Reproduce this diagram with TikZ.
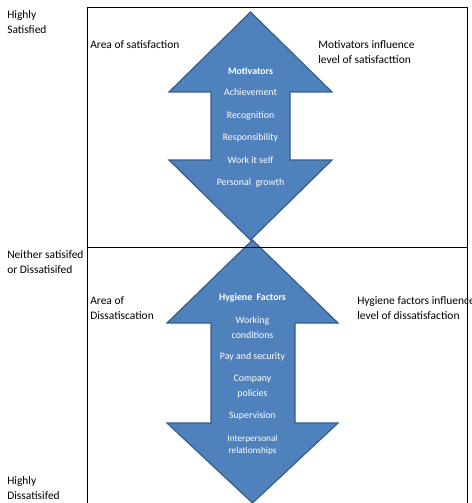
\documentclass[tikz,border=0pt]{standalone}
\usepackage{fontspec}
\setmainfont{Carlito}
\definecolor{arrowblue}{HTML}{4F81BD}
\definecolor{arrowedge}{HTML}{385D8A}
\tikzset{
  lbl/.style={anchor=west,inner sep=0pt,align=left,font=\fontsize{8.6}{11.25}\selectfont},
  inlbl/.style={text=white,inner sep=0pt,align=center,font=\fontsize{7.4}{11.25}\selectfont},
  bigarrow/.style={fill=arrowblue,draw=arrowedge,line width=0.9pt,line join=miter}
}
\begin{document}
\begin{tikzpicture}[x=0.75pt,y=-0.75pt]
    \useasboundingbox (0,0) rectangle (471,503);
    % frame
    \draw (87,510)--(87,7)--(467,7)--(467,510);
    % the two double arrows
    \draw[bigarrow] (250.5,12)--(332,92)--(290,92)--(290,160)--(332,160)--(250.5,240)--(169,160)--(211,160)--(211,92)--(169,92)--cycle;
    \draw[bigarrow] (252.5,240)--(338,323)--(295,323)--(295,423)--(338,423)--(252.5,503)--(167,423)--(211,423)--(211,323)--(167,323)--cycle;
    \draw (87,247)--(467,247);
    % scale on the left
    \node[lbl] (high) at (7,22.5) {Highly\\Satisfied};
    \node[lbl] (neither) at (7,262.5) {Neither satisifed\\or Dissatisifed};
    \node[lbl] (low) at (7,488.5) {Highly\\Dissatisifed};
    % areas
    \node[lbl] (areasat) at (90,45) {Area of satisfaction};
    \node[lbl] (motinfl) at (318,52.5) {Motivators influence\\level of satisfacttion};
    \node[lbl] (areadis) at (90,308.5) {Area of\\Dissatiscation};
    \node[lbl] (hyginfl) at (357,308.5) {Hygiene factors influence\\level of dissatisfaction};
    % motivators
    \node[inlbl,font=\fontsize{7.4}{11.25}\selectfont\bfseries] (mot) at (250.5,71) {Motivators};
    \foreach \y/\t [count=\i] in {92/Achievement,116/Recognition,138/Responsibility,160/Work it self,183/Personal\ \ growth}
        \node[inlbl] (mot\i) at (250.5,\y) {\t};
    % hygiene factors
    \node[inlbl,font=\fontsize{7.4}{11.25}\selectfont\bfseries] (hyg) at (252.5,298) {Hygiene\ \ Factors};
    \node[inlbl] (hyg1) at (252.5,327.5) {Working\\conditions};
    \node[inlbl] (hyg2) at (252.5,357) {Pay and security};
    \node[inlbl] (hyg3) at (252.5,386.5) {Company\\policies};
    \node[inlbl] (hyg4) at (252.5,416) {Supervision};
    \node[inlbl,font=\fontsize{6.9}{9}\selectfont] (hyg5) at (252.5,445) {Interpersonal\\relationships};
\end{tikzpicture}
\end{document}
